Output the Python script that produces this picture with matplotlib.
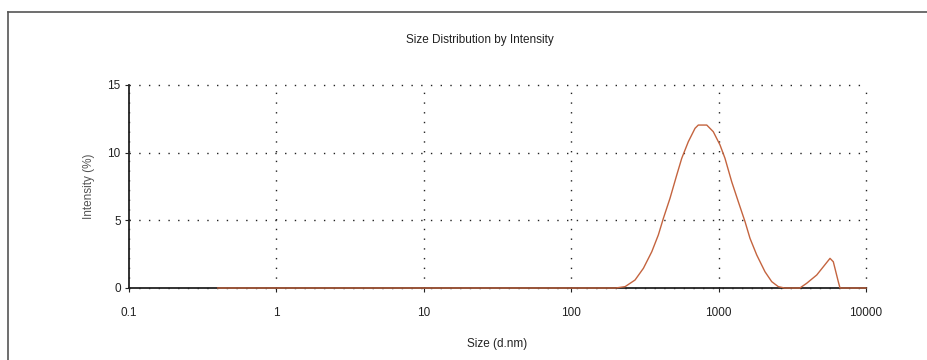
import matplotlib
matplotlib.use("Agg")
import matplotlib.pyplot as plt
from matplotlib.lines import Line2D
from matplotlib.ticker import FixedLocator, FixedFormatter, NullLocator

plt.rcParams["font.family"] = ["Liberation Sans", "DejaVu Sans"]

# size (d.nm) and intensity (%)
size = [0.4, 1, 10, 100, 200, 232, 271, 309, 352, 390, 422, 468, 520, 562,
        623, 692, 728, 831, 920, 1022, 1105, 1227, 1360, 1511, 1633, 1814,
        2064, 2292, 2541, 2800, 3560, 3960, 4631, 5700, 6000, 6486, 6662,
        10000]
intensity = [0, 0, 0, 0, 0, 0.1, 0.59, 1.46, 2.68, 3.92, 5.15, 6.63, 8.35,
             9.58, 10.81, 11.80, 12.04, 12.04, 11.55, 10.57, 9.58, 7.85,
             6.38, 4.90, 3.67, 2.44, 1.20, 0.47, 0.1, 0, 0, 0.35, 0.96, 2.19,
             1.94, 0.47, 0, 0]

xticks = [0.1, 1, 10, 100, 1000, 10000]
xtick_labels = ["0.1", "1", "10", "100", "1000", "10000"]
yticks = [0, 5, 10, 15]

INK = "#222222"
CURVE = "#c4643f"

fig = plt.figure(figsize=(9.27, 3.6), dpi=100)
fig.patch.set_facecolor("white")
ax = fig.add_axes([0.1392, 0.2, 0.795, 0.5639])

ax.plot(size, intensity, color=CURVE, lw=1.0, zorder=3, clip_on=False)

ax.set_xscale("log")
ax.set_xlim(0.1, 10000)
ax.set_ylim(0, 15)
ax.xaxis.set_major_locator(FixedLocator(xticks))
ax.xaxis.set_major_formatter(FixedFormatter(xtick_labels))
ax.xaxis.set_minor_locator(NullLocator())
ax.set_yticks(yticks)

ax.grid(True, which="major", color=INK, ls=(0, (1, 6)), lw=1.0)
for gl in ax.get_xgridlines() + ax.get_ygridlines():
    gl.set_clip_on(False)
ax.set_axisbelow(True)
for s in ("top", "right"):
    ax.spines[s].set_visible(False)
for s in ("left", "bottom"):
    ax.spines[s].set_color(INK)
    ax.spines[s].set_linewidth(1.3)
ax.tick_params(axis="both", labelsize=8.5, colors=INK, length=3, width=0.8)
ax.tick_params(axis="x", pad=11)
ax.tick_params(axis="y", pad=3)

fig.text(0.518, 0.889, "Size Distribution by Intensity", ha="center",
         va="center", fontsize=8.5, color=INK)
ax.set_xlabel("Size (d.nm)", fontsize=8.5, color=INK, labelpad=13)
ax.set_ylabel("Intensity (%)", fontsize=8.5, color="#555555", labelpad=9)

# outer frame of the report panel
fig.add_artist(Line2D([8 / 927, 1], [1 - 12 / 360] * 2, color="#555555",
                      lw=1.2, transform=fig.transFigure))
fig.add_artist(Line2D([8 / 927] * 2, [0, 1 - 12 / 360], color="#555555",
                      lw=1.2, transform=fig.transFigure))

fig.savefig("out.png", dpi=100)
